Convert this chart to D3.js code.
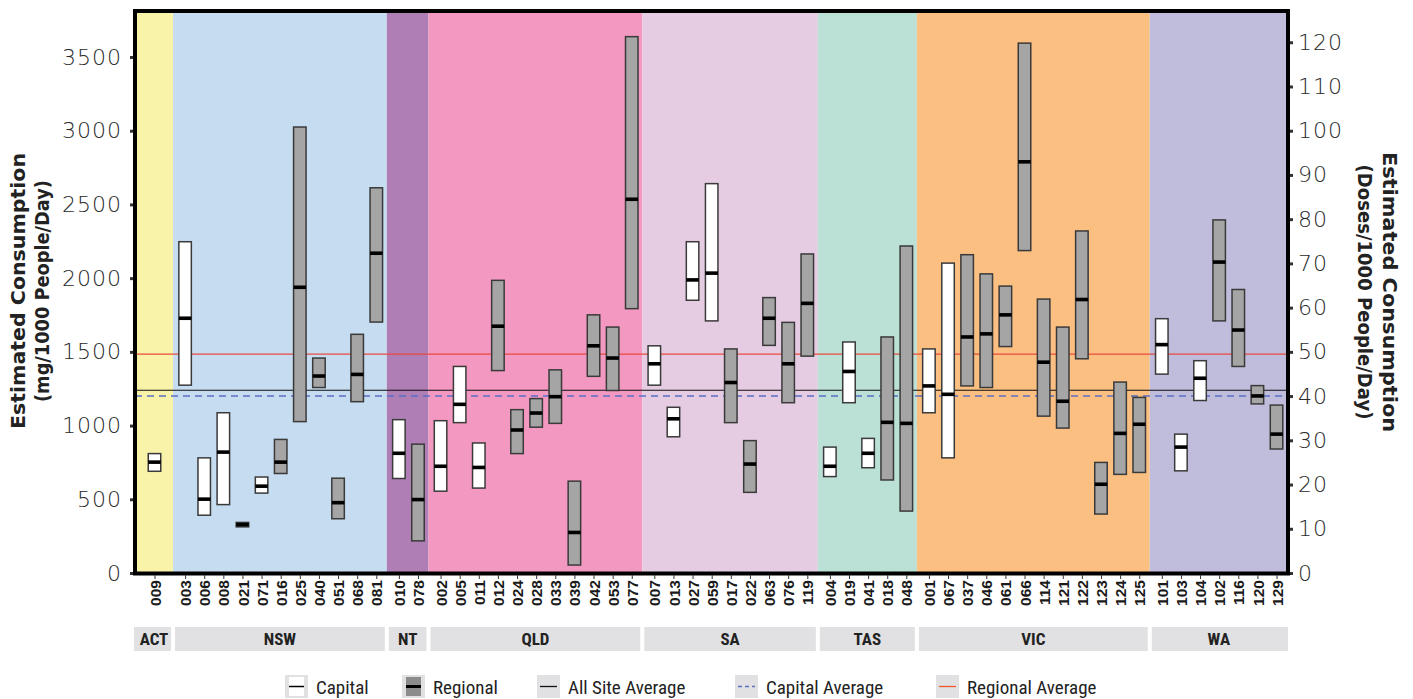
<!DOCTYPE html>
<html>
<head>
<meta charset="utf-8">
<script src="https://cdn.jsdelivr.net/npm/d3@7"></script>
<style>
  html, body { margin: 0; padding: 0; background: #ffffff; }
  svg { display: block; }
</style>
</head>
<body>
<svg id="chart" width="1413" height="699"></svg>
<script>
// ---------------- DATA ----------------
const states = ["ACT", "NSW", "NT", "QLD", "SA", "TAS", "VIC", "WA"];
const stateColors = ["#f8f3a8", "#c6dcf0", "#ae7eb4", "#f398c0", "#e6cce2", "#bbe0d5", "#fbbf81", "#c0bcdc"];

const siteCodes = [
  "009",
  "003","006","008","021","071","016","025","040","051","068","081",
  "010","078",
  "002","005","011","012","024","028","033","039","042","053","077",
  "007","013","027","059","017","022","063","076","119",
  "004","019","041","018","048",
  "001","067","037","046","061","066","114","121","122","123","124","125",
  "101","103","104","102","116","120","129"
];
const siteState = [
  "ACT",
  "NSW","NSW","NSW","NSW","NSW","NSW","NSW","NSW","NSW","NSW","NSW",
  "NT","NT",
  "QLD","QLD","QLD","QLD","QLD","QLD","QLD","QLD","QLD","QLD","QLD",
  "SA","SA","SA","SA","SA","SA","SA","SA","SA",
  "TAS","TAS","TAS","TAS","TAS",
  "VIC","VIC","VIC","VIC","VIC","VIC","VIC","VIC","VIC","VIC","VIC","VIC",
  "WA","WA","WA","WA","WA","WA","WA"
];
const siteType = [
  "Capital",
  "Capital","Capital","Capital","Capital","Capital","Regional","Regional","Regional","Regional","Regional","Regional",
  "Capital","Regional",
  "Capital","Capital","Capital","Regional","Regional","Regional","Regional","Regional","Regional","Regional","Regional",
  "Capital","Capital","Capital","Capital","Regional","Regional","Regional","Regional","Regional",
  "Capital","Capital","Capital","Regional","Regional",
  "Capital","Capital","Regional","Regional","Regional","Regional","Regional","Regional","Regional","Regional","Regional","Regional",
  "Capital","Capital","Capital","Regional","Regional","Regional","Regional"
];
// mg / 1000 people / day
const siteLow = [
  690,
  1274, 392, 464, 313, 542, 675, 1027, 1258, 368, 1162, 1702,
  641, 218,
  555, 1020, 576, 1373, 810, 989, 1015, 54, 1334, 1238, 1793,
  1274, 924, 1850, 1710, 1020, 547, 1544, 1155, 1471,
  654, 1155, 714, 631, 420,
  1087, 781, 1269, 1258, 1536, 2187, 1064, 983, 1453, 400, 669, 682,
  1349, 693, 1170, 1710, 1401, 1147, 841
];
const siteMedian = [
  752,
  1728, 501, 820, 328, 589, 752, 1938, 1336, 477, 1347, 2169,
  812, 498,
  724, 1144, 716, 1674, 970, 1085, 1196, 275, 1541, 1458, 2535,
  1419, 1046, 1988, 2034, 1292, 739, 1728, 1419, 1829,
  724, 1367, 812, 1022, 1015,
  1269, 1212, 1601, 1622, 1751, 2789, 1430, 1165, 1855, 602, 947, 1009,
  1549, 854, 1321, 2109, 1648, 1201, 942
];
const siteHigh = [
  810,
  2247, 781, 1087, 343, 651, 906, 3025, 1458, 643, 1619, 2613,
  1040, 874,
  1033, 1401, 882, 1985, 1108, 1183, 1378, 623, 1751, 1668, 3638,
  1541, 1124, 2247, 2641, 1520, 898, 1868, 1700, 2164,
  854, 1567, 913, 1601, 2218,
  1520, 2102, 2159, 2029, 1946, 3594, 1858, 1668, 2320, 750, 1295, 1191,
  1725, 942, 1440, 2395, 1923, 1271, 1139
];

const averageNames = ["All Site Average", "Capital Average", "Regional Average"];
const averageValues = [1240, 1200, 1485];

const leftTicks = [0, 500, 1000, 1500, 2000, 2500, 3000, 3500];
const rightTicks = [0, 10, 20, 30, 40, 50, 60, 70, 80, 90, 100, 110, 120];
const mgPerDose = 30;

const legendLabels = ["Capital", "Regional", "All Site Average", "Capital Average", "Regional Average"];

// ---------------- LAYOUT ----------------
const svg = d3.select("#chart");
const L = 135, R = 1288, T = 11, B = 573;
const yMax = 3812;

// positional index with extra gaps between states
const firstOffset = 1.02, groupGap = 1.18, actGap = 1.6;
const pos = [];
let p = firstOffset;
siteCodes.forEach((c, i) => {
  if (i > 0) {
    if (siteState[i] !== siteState[i - 1]) p += (siteState[i - 1] === "ACT" ? actGap : groupGap);
    else p += 1;
  }
  pos.push(p);
});
const domainEnd = pos[pos.length - 1] + 0.6;

const x = d3.scaleLinear().domain([0, domainEnd]).range([L, R]);
const y = d3.scaleLinear().domain([0, yMax]).range([B, T]);
const yR = d3.scaleLinear().domain([0, yMax / mgPerDose]).range([B, T]);

// state extents
const bands = states.map((s, si) => {
  const idx = siteCodes.map((c, i) => i).filter(i => siteState[i] === s);
  return { state: s, color: stateColors[si], first: pos[idx[0]], last: pos[idx[idx.length - 1]] };
});
bands.forEach((b, i) => {
  b.x1v = i === bands.length - 1 ? domainEnd : (i === 0 ? bands[1].first - 0.63 : b.last + 0.55);
});
bands.forEach((b, i) => { b.x0v = i === 0 ? 0 : bands[i - 1].x1v; });

// ---- background bands
svg.append("g").selectAll("rect").data(bands).join("rect")
  .attr("x", d => x(d.x0v)).attr("y", T)
  .attr("width", d => x(d.x1v) - x(d.x0v)).attr("height", B - T)
  .attr("fill", d => d.color);

// ---- average lines
const avgStyle = [
  { stroke: "#111111", width: 1.1, dash: null },
  { stroke: "#5b6fc4", width: 1.5, dash: "7,5" },
  { stroke: "#ea4a3f", width: 1.3, dash: null }
];
svg.append("g").selectAll("line").data(averageValues).join("line")
  .attr("x1", L).attr("x2", R)
  .attr("y1", d => y(d)).attr("y2", d => y(d))
  .attr("stroke", (d, i) => avgStyle[i].stroke)
  .attr("stroke-width", (d, i) => avgStyle[i].width)
  .attr("stroke-dasharray", (d, i) => avgStyle[i].dash);

// ---- bars
const barW = 12.5;
const bars = svg.append("g").selectAll("g").data(siteCodes).join("g");
bars.append("rect")
  .attr("x", (d, i) => x(pos[i]) - barW / 2)
  .attr("y", (d, i) => y(siteHigh[i]))
  .attr("width", barW)
  .attr("height", (d, i) => y(siteLow[i]) - y(siteHigh[i]))
  .attr("fill", (d, i) => siteType[i] === "Capital" ? "#ffffff" : "#a5a5a5")
  .attr("stroke", "#3a3a3a").attr("stroke-width", 1.5);
bars.append("rect")
  .attr("x", (d, i) => x(pos[i]) - barW / 2)
  .attr("y", (d, i) => y(siteMedian[i]) - 1.8)
  .attr("width", barW).attr("height", 3.6)
  .attr("fill", "#000000");

// ---- frame
svg.append("path")
  .attr("d", `M${L},${B}V${T}H${R}V${B}`)
  .attr("fill", "none").attr("stroke", "#000").attr("stroke-width", 4)
  .attr("stroke-linejoin", "miter");
svg.append("line").attr("x1", L - 2).attr("x2", R + 2).attr("y1", B + 0.5).attr("y2", B + 0.5)
  .attr("stroke", "#000").attr("stroke-width", 4);

// ---- left axis
const tickFont = "'DejaVu Sans', sans-serif";
const gL = svg.append("g").attr("transform", `translate(${L - 2},0)`)
  .call(d3.axisLeft(y).tickValues(leftTicks).tickSize(3).tickPadding(8).tickFormat(d3.format("d")));
gL.select(".domain").remove();
gL.selectAll(".tick line").attr("stroke", "#333").attr("stroke-width", 3);
gL.selectAll(".tick text").attr("font-family", tickFont).attr("font-size", 22)
  .attr("fill", "#2a2a2a").attr("font-weight", 300).attr("letter-spacing", 1);

// ---- right axis
const gR = svg.append("g").attr("transform", `translate(${R + 2},0)`)
  .call(d3.axisRight(yR).tickValues(rightTicks).tickSize(3).tickPadding(5).tickFormat(d3.format("d")));
gR.select(".domain").remove();
gR.selectAll(".tick line").attr("stroke", "#333").attr("stroke-width", 3);
gR.selectAll(".tick text").attr("font-family", tickFont).attr("font-size", 22)
  .attr("fill", "#2a2a2a").attr("font-weight", 300).attr("letter-spacing", 1);

// ---- x axis (site codes)
const gX = svg.append("g").attr("transform", `translate(0,${B + 2})`)
  .call(d3.axisBottom(x).tickValues(pos).tickSize(4).tickFormat((d, i) => siteCodes[i]));
gX.select(".domain").remove();
gX.selectAll(".tick line").attr("stroke", "#333").attr("stroke-width", 1);
gX.selectAll(".tick text")
  .attr("font-family", "'Liberation Sans', Arial, sans-serif")
  .attr("font-weight", "bold").attr("font-size", 15.5).attr("fill", "#1a1a1a")
  .attr("transform", "rotate(-90)")
  .attr("text-anchor", "end")
  .attr("x", -5).attr("y", 0).attr("dy", "0.36em");

// ---- state label boxes
const condensed = "'Liberation Sans Narrow', 'Arial Narrow', 'Roboto Condensed', sans-serif";
const sb = svg.append("g").selectAll("g").data(bands).join("g");
sb.append("rect")
  .attr("x", (d, i) => i === 0 ? x(d.x0v) - 1 : x(d.x0v) + 2)
  .attr("width", (d, i) => {
    const a = i === 0 ? x(d.x0v) - 1 : x(d.x0v) + 2;
    const b = i === bands.length - 1 ? x(d.x1v) : x(d.x1v) - 2;
    return b - a;
  })
  .attr("y", 627).attr("height", 24).attr("fill", "#e1e1e3");
sb.append("text")
  .attr("x", d => (x(d.x0v) + x(d.x1v)) / 2).attr("y", 645)
  .attr("text-anchor", "middle")
  .attr("font-family", condensed).attr("font-weight", "bold").attr("font-size", 17)
  .attr("fill", "#222").text(d => d.state);

// ---- axis titles
const titleFont = "'DejaVu Sans', sans-serif";
const lt = svg.append("g").attr("transform", "translate(0,291)");
lt.append("text").attr("transform", "translate(25,0) rotate(-90)")
  .attr("text-anchor", "middle").attr("font-family", titleFont).attr("font-weight", "bold")
  .attr("font-size", 19).attr("fill", "#222").attr("textLength", 276).attr("lengthAdjust", "spacingAndGlyphs")
  .text("Estimated Consumption");
lt.append("text").attr("transform", "translate(49,0) rotate(-90)")
  .attr("text-anchor", "middle").attr("font-family", titleFont).attr("font-weight", "bold")
  .attr("font-size", 19).attr("fill", "#222").attr("textLength", 222).attr("lengthAdjust", "spacingAndGlyphs")
  .text("(mg/1000 People/Day)");
const rt = svg.append("g").attr("transform", "translate(0,292)");
rt.append("text").attr("transform", "translate(1383,0) rotate(90)")
  .attr("text-anchor", "middle").attr("font-family", titleFont).attr("font-weight", "bold")
  .attr("font-size", 19).attr("fill", "#222").attr("textLength", 280).attr("lengthAdjust", "spacingAndGlyphs")
  .text("Estimated Consumption");
rt.append("text").attr("transform", "translate(1358,0) rotate(90)")
  .attr("text-anchor", "middle").attr("font-family", titleFont).attr("font-weight", "bold")
  .attr("font-size", 19).attr("fill", "#222").attr("textLength", 255).attr("lengthAdjust", "spacingAndGlyphs")
  .text("(Doses/1000 People/Day)");

// ---- legend
const legendX = [285, 402, 537, 735, 936];
const lg = svg.append("g").selectAll("g").data(legendLabels).join("g")
  .attr("transform", (d, i) => `translate(${legendX[i]},675)`);
lg.append("rect").attr("width", 23).attr("height", 23).attr("fill", "#e1e1e3");
lg.each(function (d, i) {
  const g = d3.select(this);
  if (i === 0) {
    g.append("rect").attr("x", 4).attr("y", 2).attr("width", 15).attr("height", 19).attr("fill", "#ffffff");
    g.append("line").attr("x1", 4).attr("x2", 19).attr("y1", 11.5).attr("y2", 11.5).attr("stroke", "#000").attr("stroke-width", 1.5);
  } else if (i === 1) {
    g.append("rect").attr("x", 4).attr("y", 2).attr("width", 15).attr("height", 19).attr("fill", "#8c8c8c");
    g.append("line").attr("x1", 4).attr("x2", 19).attr("y1", 11.5).attr("y2", 11.5).attr("stroke", "#000").attr("stroke-width", 3);
  } else {
    const st = avgStyle[i - 2];
    g.append("line").attr("x1", 3).attr("x2", 20).attr("y1", 11.5).attr("y2", 11.5)
      .attr("stroke", i === 4 ? "#f05a28" : st.stroke).attr("stroke-width", 1.3)
      .attr("stroke-dasharray", i === 3 ? "4,3" : null);
  }
});
lg.append("text").attr("x", 31).attr("y", 19)
  .attr("font-family", condensed).attr("font-size", 19).attr("fill", "#222")
  .text(d => d);
</script>
</body>
</html>
